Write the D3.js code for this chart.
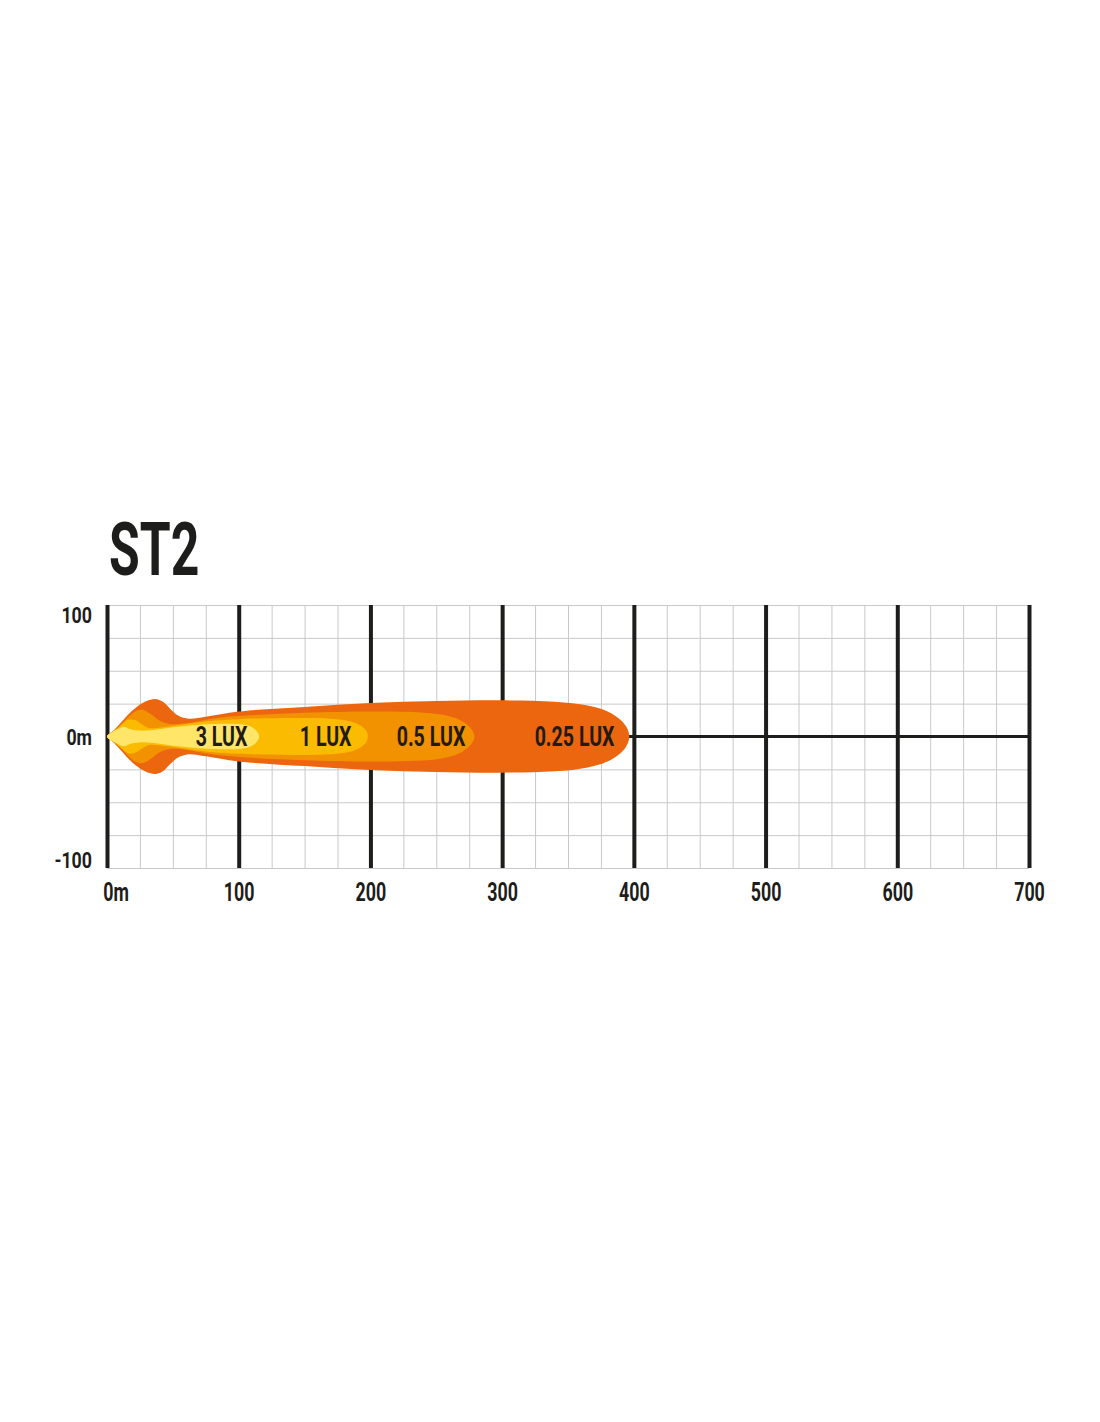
<!DOCTYPE html>
<html>
<head>
<meta charset="utf-8">
<script src="https://cdn.jsdelivr.net/npm/d3@7"></script>
<style>
  body { margin: 0; background: #fff; }
  svg text { font-family: Roboto, "DejaVu Sans Condensed", sans-serif; font-weight: bold; }
</style>
</head>
<body>
<div id="chart"></div>
<script>
const title = "ST2";
const xTicks = [0, 100, 200, 300, 400, 500, 600, 700];
const xTickLabels = ["0m", "100", "200", "300", "400", "500", "600", "700"];
const yTicks = [100, 0, -100];
const yTickLabels = ["100", "0m", "-100"];
const gridStep = 25;

// beam zones, outermost first: [distance m, half width m]
const zoneNames = ["0.25 LUX", "0.5 LUX", "1 LUX", "3 LUX"];
const zoneLabelAt = [355, 246, 166, 87];
const lux025 = [[0, 0], [5, 4.5], [11, 11], [19, 19.5], [27, 25.5], [33, 28], [38, 28.3], [43, 26], [48, 21], [54, 16], [62, 13.5], [75, 15], [100, 19], [150, 22.5], [200, 25.5], [250, 27], [300, 27.5], [340, 26.5], [365, 23.5], [380, 19], [390, 12.5], [395, 6], [396.5, 0]];
const lux05 = [[0, 0], [6, 5], [12, 10.5], [18, 16.5], [23, 19.8], [28, 20], [34, 16.5], [40, 12], [48, 9.5], [60, 10], [80, 13.5], [100, 15.5], [150, 18], [200, 19], [235, 18.5], [255, 16.5], [268, 12.5], [276, 6.5], [279, 0]];
const lux1 = [[0, 0], [6, 4.5], [11, 9], [16, 12.7], [21, 12.5], [27, 9], [32, 6.5], [45, 7.5], [60, 9.5], [80, 12], [100, 13.2], [140, 14], [170, 13.5], [185, 11.5], [193, 8], [197, 4], [198, 0]];
const lux3 = [[0, 0], [4, 3.5], [9, 6], [13, 7.5], [18, 5.5], [25, 4.5], [35, 5], [50, 7], [65, 8.5], [80, 9.5], [100, 9.5], [108, 8], [113, 5], [115.5, 0]];
const zones = [lux025, lux05, lux1, lux3];
const zoneColors = ["#eb660f", "#f39200", "#fbbb00", "#ffe568"];

const svg = d3.select("#chart").append("svg").attr("width", 1100).attr("height", 1422);
const x = d3.scaleLinear().domain([0, 700]).range([107, 1029]);
const y = d3.scaleLinear().domain([-100, 100]).range([868, 605]);

// title
svg.append("text")
  .attr("transform", `translate(109,575) scale(0.67,1)`)
  .attr("font-size", 74.5)
  .attr("fill", "#1d1d1b")
  .text(title);

// light grid
const gx = svg.append("g").attr("transform", `translate(0,${y(-100)})`)
  .call(d3.axisBottom(x).tickValues(d3.range(0, 701, gridStep)).tickSize(-(y(-100) - y(100))).tickFormat(""));
gx.select(".domain").remove();
gx.selectAll("line").attr("stroke", "#c9c9cb").attr("stroke-width", 1);

const gy = svg.append("g").attr("transform", `translate(${x(0)},0)`)
  .call(d3.axisLeft(y).tickValues(d3.range(-100, 101, gridStep)).tickSize(-(x(700) - x(0))).tickFormat(""));
gy.select(".domain").remove();
gy.selectAll("line").attr("stroke", "#c9c9cb").attr("stroke-width", 1);

// zero line
svg.append("line")
  .attr("x1", x(0)).attr("x2", x(700))
  .attr("y1", y(0)).attr("y2", y(0))
  .attr("stroke", "#1d1d1b").attr("stroke-width", 3);

// major verticals
const gm = svg.append("g").attr("transform", `translate(0,${y(-100)})`)
  .call(d3.axisBottom(x).tickValues(xTicks).tickSize(-(y(-100) - y(100))).tickFormat(""));
gm.select(".domain").remove();
gm.selectAll("line").attr("stroke", "#1d1d1b").attr("stroke-width", 4);

// beam
const beamLine = d3.line()
  .x((d) => x(d[0]))
  .y((d) => y(d[1]))
  .curve(d3.curveCatmullRomClosed.alpha(0.5));

function outline(pts) {
  const bottom = pts.slice(1, -1).reverse().map((d) => [d[0], -d[1]]);
  return pts.concat(bottom);
}

svg.append("g").selectAll("path")
  .data(zones)
  .enter()
  .append("path")
  .attr("d", (d) => beamLine(outline(d)))
  .attr("fill", (d, i) => zoneColors[i]);

svg.append("g").selectAll("text")
  .data(zoneNames)
  .enter()
  .append("text")
  .attr("transform", (d, i) => `translate(${x(zoneLabelAt[i])},${y(0)}) scale(0.7,1)`)
  .attr("text-anchor", "middle")
  .attr("dominant-baseline", "central")
  .attr("font-size", 28)
  .attr("fill", "#221a14")
  .text((d) => d);

// axis labels
const xa = svg.append("g").attr("transform", `translate(0,${y(-100)})`)
  .call(d3.axisBottom(x).tickValues(xTicks).tickSize(0).tickPadding(15).tickFormat((d, i) => xTickLabels[i]));
xa.select(".domain").remove();
xa.attr("font-size", 25.5).attr("color", "#1d1d1b");
xa.selectAll("text")
  .attr("transform", "scale(0.7,1)")
  .attr("text-anchor", (d) => (d === 0 ? "start" : "middle"))
  .attr("x", (d) => (d === 0 ? -6 : 0));

const ya = svg.append("g").attr("transform", `translate(${x(0)},0)`)
  .call(d3.axisLeft(y).tickValues(yTicks).tickSize(0).tickPadding(15).tickFormat((d, i) => yTickLabels[i]));
ya.select(".domain").remove();
ya.attr("font-size", 22.5).attr("color", "#1d1d1b");
ya.selectAll("text")
  .attr("transform", "scale(0.79,1)")
  .attr("x", -15 / 0.79)
  .attr("y", (d) => (d > 0 ? 10 : d < 0 ? -8 : 1));
</script>
</body>
</html>
